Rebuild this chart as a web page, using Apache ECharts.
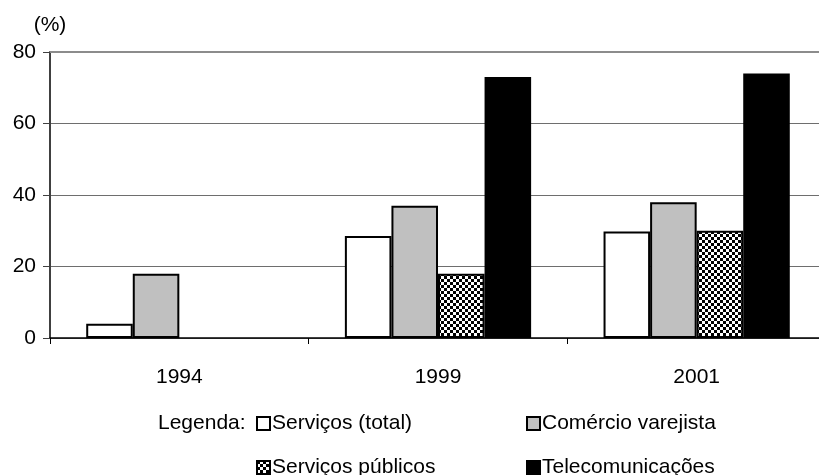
<!DOCTYPE html>
<html>
<head>
<meta charset="utf-8">
<script src="https://cdn.jsdelivr.net/npm/echarts@6/dist/echarts.min.js"></script>
<style>
  html, body { margin: 0; padding: 0; background: #fff; }
  #chart { width: 819px; height: 475px; }
</style>
</head>
<body>
<div id="chart"></div>
<script>
// Categories and series values (%)
var years = ['1994', '1999', '2001'];
var servicosTotal = [4, 28.5, 29.8];
var comercioVarejista = [18, 37, 38];
var servicosPublicos = [null, 18, 30];
var telecomunicacoes = [null, 73, 74];
var yTicks = [0, 20, 40, 60, 80];

var FONT = 'Liberation Sans, Arial, sans-serif';
var FS = 21;

// Small checkerboard tile used as a fill pattern
function checkerTile() {
  var c = document.createElement('canvas');
  var s = 3;
  c.width = s * 2; c.height = s * 2;
  var g = c.getContext('2d');
  g.fillStyle = '#fff';
  g.fillRect(0, 0, s * 2, s * 2);
  g.fillStyle = '#000';
  g.fillRect(0, 0, s, s);
  g.fillRect(s, s, s, s);
  return c;
}

var chart = echarts.init(document.getElementById('chart'), null, { renderer: 'canvas' });

function barSeries(name, data, fill) {
  return {
    name: name,
    type: 'bar',
    data: data,
    barGap: '0%',
    barCategoryGap: '28%',
    itemStyle: { color: fill, borderColor: '#000', borderWidth: 2 },
    emphasis: { disabled: true },
    animation: false
  };
}

var series = [
  barSeries('Serviços (total)', servicosTotal, '#ffffff'),
  barSeries('Comércio varejista', comercioVarejista, '#c0c0c0'),
  barSeries('Serviços públicos', servicosPublicos, { image: checkerTile(), repeat: 'repeat' }),
  barSeries('Telecomunicações', telecomunicacoes, '#000000')
];
// Upper boundary line of the value range
series[0].markLine = {
  silent: true,
  symbol: 'none',
  label: { show: false },
  lineStyle: { color: '#8c8c8c', width: 2, type: 'solid' },
  data: [{ yAxis: yTicks[yTicks.length - 1] }]
};

function legendAt(name, left, top) {
  return {
    data: [name],
    left: left,
    top: top,
    itemWidth: 13,
    itemHeight: 13,
    itemGap: 0,
    selectedMode: false,
    icon: 'rect',
    textStyle: { fontFamily: FONT, fontSize: FS, color: '#000', padding: [0, 0, 0, -3] }
  };
}

chart.setOption({
  animation: false,
  backgroundColor: '#fff',
  textStyle: { fontFamily: FONT },
  title: {
    text: 'Legenda:',
    left: 158,
    top: 413,
    padding: 0,
    textStyle: { fontFamily: FONT, fontSize: FS, fontWeight: 'normal', color: '#000' }
  },
  legend: [
    legendAt('Serviços (total)', 251, 408),
    legendAt('Comércio varejista', 521, 408),
    legendAt('Serviços públicos', 251, 452),
    legendAt('Telecomunicações', 521, 452)
  ],
  // the plot area runs a little past the right edge of the canvas
  grid: {
    left: 50, top: 52, width: 776, height: 286,
    containLabel: false,
    outerBoundsMode: 'none'
  },
  xAxis: {
    type: 'category',
    data: years,
    axisLine: { lineStyle: { color: '#000', width: 1.5 } },
    axisTick: { show: true, length: 6, lineStyle: { color: '#000', width: 1 } },
    axisLabel: { fontFamily: FONT, fontSize: FS, color: '#000', margin: 29 }
  },
  yAxis: {
    type: 'value',
    min: yTicks[0],
    max: yTicks[yTicks.length - 1],
    interval: yTicks[1] - yTicks[0],
    name: '(%)',
    nameLocation: 'end',
    nameGap: 16,
    nameTextStyle: { fontFamily: FONT, fontSize: FS, color: '#000', align: 'center' },
    axisLine: { show: true, lineStyle: { color: '#404040', width: 2 } },
    axisTick: { show: true, length: 7, lineStyle: { color: '#404040', width: 1 } },
    axisLabel: { fontFamily: FONT, fontSize: FS, color: '#000', margin: 14 },
    splitLine: { show: true, lineStyle: { color: '#6e6e6e', width: 1 } }
  },
  series: series
});
</script>
</body>
</html>
